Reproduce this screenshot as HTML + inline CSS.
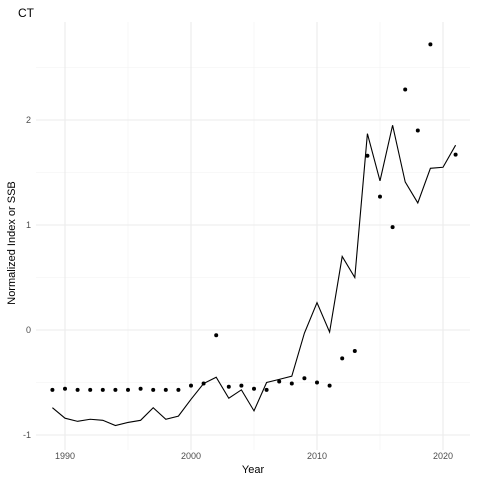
<!DOCTYPE html>
<html><head><meta charset="utf-8"><style>
body{margin:0;background:#fff;font-family:"Liberation Sans",sans-serif}
</style></head><body>
<svg id="c" width="480" height="480" xmlns="http://www.w3.org/2000/svg"></svg>
<script>
const years=[1989,1990,1991,1992,1993,1994,1995,1996,1997,1998,1999,2000,2001,2002,2003,2004,2005,2006,2007,2008,2009,2010,2011,2012,2013,2014,2015,2016,2017,2018,2019,2020,2021];
const ssbLine=[-0.74,-0.84,-0.87,-0.85,-0.86,-0.91,-0.88,-0.86,-0.74,-0.85,-0.82,-0.66,-0.51,-0.45,-0.65,-0.57,-0.77,-0.50,-0.47,-0.44,-0.03,0.26,-0.02,0.70,0.50,1.87,1.42,1.95,1.41,1.21,1.54,1.55,1.76];
const pointYears=[1989,1990,1991,1992,1993,1994,1995,1996,1997,1998,1999,2000,2001,2002,2003,2004,2005,2006,2007,2008,2009,2010,2011,2012,2013,2014,2015,2016,2017,2018,2019,2021];
const indexPoints=[-0.57,-0.56,-0.57,-0.57,-0.57,-0.57,-0.57,-0.56,-0.57,-0.57,-0.57,-0.53,-0.51,-0.05,-0.54,-0.53,-0.56,-0.57,-0.49,-0.51,-0.46,-0.50,-0.53,-0.27,-0.20,1.66,1.27,0.98,2.29,1.90,2.72,1.67];
const xTicks=[1990,2000,2010,2020];
const yTicks=[-1,0,1,2];
const NS="http://www.w3.org/2000/svg";
const svg=document.getElementById('c');
const X=v=>65+(v-1990)*12.6;
const Y=v=>330-v*105;
function mk(t,a,p){const e=document.createElementNS(NS,t);for(const k in a)e.setAttribute(k,a[k]);(p||svg).appendChild(e);return e;}
const L=36,R=470,T=22,B=450;
for(let v=1985;v<=2025;v+=10){const x=X(v);if(x>L&&x<R){const g=mk('line',{x1:x,x2:x,y1:T,y2:B,stroke:'#f2f2f2','stroke-width':0.6});

}}
for(let v=-1.5;v<=3;v+=1){const y=Y(v);if(y>T&&y<B){const g=mk('line',{x1:L,x2:R,y1:y,y2:y,stroke:'#f2f2f2','stroke-width':0.6});

}}
xTicks.forEach(v=>{const g=mk('line',{x1:X(v),x2:X(v),y1:T,y2:B,stroke:'#ebebeb','stroke-width':1.1});


const t=mk('text',{x:X(v),y:459,'text-anchor':'middle','font-size':9,fill:'#4d4d4d'});t.textContent=v;

});
yTicks.forEach(v=>{const g=mk('line',{x1:L,x2:R,y1:Y(v),y2:Y(v),stroke:'#ebebeb','stroke-width':1.1});


const t=mk('text',{x:31,y:Y(v)+3,'text-anchor':'end','font-size':9,fill:'#4d4d4d'});t.textContent=v;

});
const line=mk('polyline',{points:years.map((y,i)=>X(y)+','+Y(ssbLine[i])).join(' '),fill:'none',stroke:'#000','stroke-width':1.1});


pointYears.forEach((y,i)=>{const c=mk('circle',{cx:X(y),cy:Y(indexPoints[i]),r:2,fill:'#000'});

});
const tt=mk('text',{x:18,y:17,'font-size':12,fill:'#000'});tt.textContent='CT';


const xt=mk('text',{x:253,y:473,'text-anchor':'middle','font-size':11,fill:'#000'});xt.textContent='Year';


const yt=mk('text',{x:0,y:0,'text-anchor':'middle','font-size':11,fill:'#000',transform:'translate(15,243) rotate(-90)'});yt.textContent='Normalized Index or SSB';


</script>
</body></html>
